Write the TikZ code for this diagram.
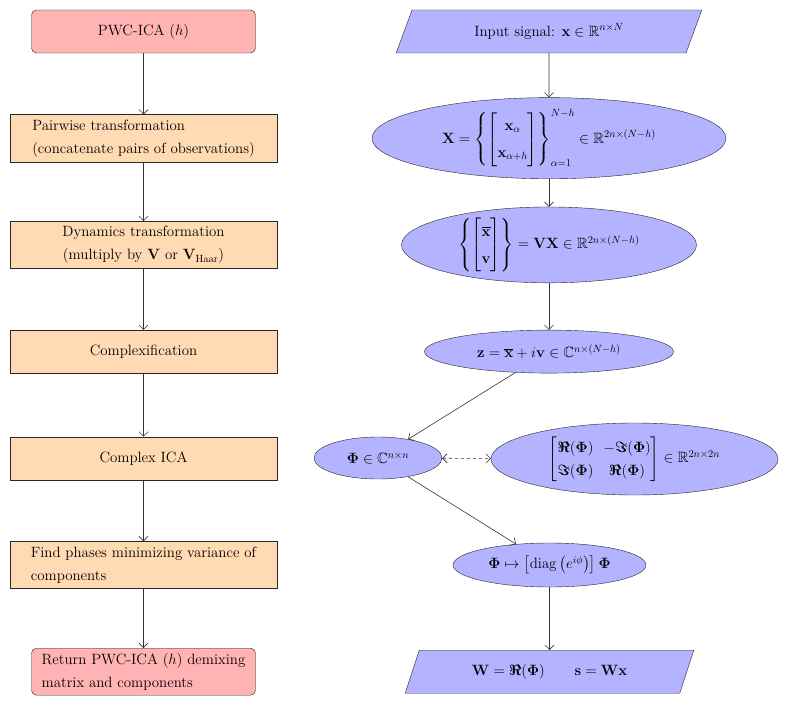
\documentclass[tikz,border=0pt]{standalone}
\usepackage{fix-cm}
\usepackage{amsmath}
\usepackage{amssymb}
\usetikzlibrary{shapes.geometric, positioning, arrows, arrows.meta}
\definecolor{termpink}{RGB}{255,179,179}
\definecolor{procpeach}{RGB}{255,218,179}
\definecolor{mathblue}{RGB}{179,179,255}
\newcommand{\bRe}{\boldsymbol{\Re}}
\newcommand{\bIm}{\boldsymbol{\Im}}
\tikzset{
	->, % every connector gets a head
	>={Straight Barb[length=4.5pt, width=9pt]}, % thin open arrow heads
	node distance=106.7pt, % centre to centre, one row
	every node/.style={font=\fontsize{14.9}{23}\selectfont}, % text size of all boxes
	termbox/.style={draw=black!85, fill=termpink, rounded corners=5pt, minimum width=224pt, minimum height=43pt, align=left}, % first and last step
	procbox/.style={draw=black!85, fill=procpeach, minimum width=267pt, minimum height=47pt, align=left}, % steps of the method
	iobox/.style={trapezium, trapezium left angle=68, trapezium right angle=112, trapezium stretches=true, draw=black!85, fill=mathblue, minimum width=306pt, minimum height=43pt}, % input and output
	mathnode/.style={ellipse, draw=black!85, fill=mathblue, inner sep=0pt}, % formulas
	link/.style={draw=black!80, line width=0.6pt}, % connectors
}

\begin{document}
\begin{tikzpicture}[x=1pt, y=-1pt]
	\useasboundingbox (0,0) rectangle (789,706);
	% left column: the steps
	\node[termbox] at (143.5,31.5) (start) {PWC-ICA ($h$)};
	\node[procbox, below of=start] (pair) {Pairwise transformation\\(concatenate pairs of observations)};
	\node[procbox, below of=pair, align=center] (dyn) {Dynamics transformation\\(multiply by $\mathbf{V}$ or $\mathbf{V}_{\mathrm{Haar}}$)};
	\node[procbox, below of=dyn, minimum height=43pt] (cplx) {Complexification};
	\node[procbox, below of=cplx, minimum height=43pt] (cica) {Complex ICA};
	\node[procbox, below of=cica] (phase) {Find phases minimizing variance of\\components};
	\node[termbox, below of=phase, minimum height=47pt] (ret) {Return PWC-ICA ($h$) demixing\\matrix and components};
	% right column: the formulas
	\node[iobox] at (549,31.5) (inp) {Input signal: $\mathbf{x} \in \mathbb{R}^{n\times N}$};
	\node[mathnode, below of=inp, minimum width=354pt, minimum height=78pt] (bigX) {$\mathbf{X} = \left\{ \begin{bmatrix} \mathbf{x}_{\alpha} \\[4pt] \mathbf{x}_{\alpha+h} \end{bmatrix} \right\}_{\alpha=1}^{N-h} \in \mathbb{R}^{2n\times(N-h)}$};
	\node[mathnode, below of=bigX, minimum width=295pt, minimum height=74pt] (vx) {$\left\{ \begin{bmatrix} \overline{\mathbf{x}} \\[4pt] \mathbf{v} \end{bmatrix} \right\} = \mathbf{VX} \in \mathbb{R}^{2n\times(N-h)}$};
	\node[mathnode, below of=vx, minimum width=249pt, minimum height=43pt] (z) {$\mathbf{z} = \overline{\mathbf{x}} + i\mathbf{v} \in \mathbb{C}^{n\times(N-h)}$};
	\node[mathnode, minimum width=128pt, minimum height=42pt] at (378,458) (phi) {$\mathbf{\Phi} \in \mathbb{C}^{n\times n}$};
	\node[mathnode, minimum width=287pt, minimum height=72pt] at (634.5,459) (mat) {$\begin{bmatrix} \bRe(\mathbf{\Phi}) & -\bIm(\mathbf{\Phi}) \\ \bIm(\mathbf{\Phi}) & \bRe(\mathbf{\Phi}) \end{bmatrix} \in \mathbb{R}^{2n\times 2n}$};
	\node[mathnode, minimum width=193pt, minimum height=44pt] at (549.5,565) (rot) {$\mathbf{\Phi} \mapsto \left[\operatorname{diag}\left(e^{i\phi}\right)\right]\mathbf{\Phi}$};
	\node[iobox, below of=rot, minimum width=289pt] (out) {$\mathbf{W} = \bRe(\mathbf{\Phi}) \qquad \mathbf{s} = \mathbf{Wx}$};
	\draw[link] (start) edge (pair)
			(pair) edge (dyn)
			(dyn) edge (cplx)
			(cplx) edge (cica)
			(cica) edge (phase)
			(phase) edge (ret);
	\draw[link] (inp) edge (bigX)
			(bigX) edge (vx)
			(vx) edge (z)
			(z) edge (phi)
			(phi) edge[<->, dashed] (mat)
			(phi) edge (rot)
			(rot) edge (out);
\end{tikzpicture}
\end{document}
